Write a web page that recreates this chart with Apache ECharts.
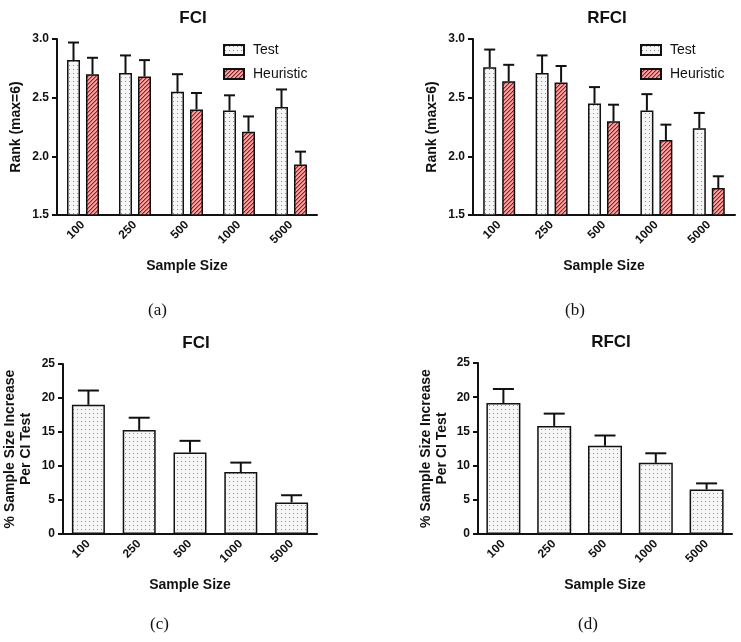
<!DOCTYPE html>
<html><head><meta charset="utf-8">
<script src="https://cdn.jsdelivr.net/npm/echarts@6/dist/echarts.min.js"></script>
<style>html,body{margin:0;padding:0;background:#fff}#c{width:741px;height:642px}</style>
</head><body><div id="c"></div>
<script>
const categories = ['100','250','500','1000','5000'];
const rankTicks = [1.5, 2.0, 2.5, 3.0];
// (a) FCI rank
const fciTest = [2.82, 2.71, 2.55, 2.39, 2.42];
const fciTestErr = [0.15, 0.15, 0.15, 0.13, 0.15];
const fciHeur = [2.70, 2.68, 2.40, 2.21, 1.93];
const fciHeurErr = [0.14, 0.14, 0.14, 0.13, 0.11];
// (b) RFCI rank
const rfciTest = [2.76, 2.71, 2.45, 2.39, 2.24];
const rfciTestErr = [0.15, 0.15, 0.14, 0.14, 0.13];
const rfciHeur = [2.64, 2.63, 2.30, 2.14, 1.73];
const rfciHeurErr = [0.14, 0.14, 0.14, 0.13, 0.10];
// (c) FCI % increase
const fciInc = [19.0, 15.3, 12.0, 9.1, 4.65];
const fciIncErr = [2.1, 1.8, 1.7, 1.4, 1.05];
// (d) RFCI % increase
const rfciInc = [19.15, 15.8, 12.9, 10.4, 6.5];
const rfciIncErr = [2.05, 1.8, 1.5, 1.4, 0.9];

function makePattern(w, h, bg, layers) {
  const c = document.createElement('canvas');
  c.width = w; c.height = h;
  const ctx = c.getContext('2d');
  ctx.fillStyle = bg; ctx.fillRect(0, 0, w, h);
  layers.forEach(l => { ctx.fillStyle = l.c; l.p.forEach(p => ctx.fillRect(p[0], p[1], 1, 1)); });
  return { image: c, repeat: 'repeat' };
}
const dotFill = makePattern(4, 4, '#f6f6f6', [{c: '#8e8e8e', p: [[1, 1]]}]);
const hatchFill = makePattern(4, 4, '#f4a3a3', [
  {c: '#7a2424', p: [[0, 3], [1, 2], [2, 1], [3, 0]]},
  {c: '#d46a6a', p: [[1, 3], [2, 2], [3, 1], [0, 0]]}
]);

const FONT = 'Liberation Sans, Arial, sans-serif';
const INK = '#111';

function errSeries(grid, vals, errs, offset, cap) {
  return {
    type: 'custom', xAxisIndex: grid, yAxisIndex: grid, z: 5,
    data: categories.map((c, i) => [i, vals[i], errs[i]]),
    renderItem: function (params, api) {
      const i = api.value(0), v = api.value(1), e = api.value(2);
      const b = api.coord([i, v]), t = api.coord([i, v + e]);
      const x = b[0] + offset;
      return { type: 'group', children: [
        {type: 'line', shape: {x1: x, y1: b[1], x2: x, y2: t[1]}, style: {stroke: INK, lineWidth: 2}},
        {type: 'line', shape: {x1: x - cap / 2, y1: t[1], x2: x + cap / 2, y2: t[1]}, style: {stroke: INK, lineWidth: 2}}
      ]};
    }
  };
}

function xAx(grid) {
  return {
    type: 'category', gridIndex: grid, data: categories,
    name: 'Sample Size', nameLocation: 'middle', nameGap: 44,
    nameTextStyle: {fontFamily: FONT, fontWeight: 'bold', fontSize: 14, color: INK},
    axisLine: {lineStyle: {color: INK, width: 2}},
    axisTick: {alignWithLabel: true, length: 5, lineStyle: {color: INK, width: 2}},
    axisLabel: {rotate: 45, fontFamily: FONT, fontWeight: 'bold', fontSize: 12, color: INK, margin: 8}
  };
}
function yAx(grid, min, max, interval, name, gap, fmt) {
  return {
    type: 'value', gridIndex: grid, min: min, max: max, interval: interval,
    name: name, nameLocation: 'middle', nameGap: gap, nameRotate: 90,
    nameTextStyle: {fontFamily: FONT, fontWeight: 'bold', fontSize: 14, color: INK, lineHeight: 16, align: 'center'},
    axisLine: {show: true, lineStyle: {color: INK, width: 2}},
    axisTick: {show: true, length: 5, lineStyle: {color: INK, width: 2}},
    splitLine: {show: false},
    axisLabel: {fontFamily: FONT, fontWeight: 'bold', fontSize: 12, color: INK, margin: 8, formatter: fmt}
  };
}
const rankFmt = v => v.toFixed(1);
const intFmt = v => String(v);

const barStyleTest = {color: dotFill, borderColor: INK, borderWidth: 1.5};
const barStyleHeur = {color: hatchFill, borderColor: INK, borderWidth: 1.5};

function titleAt(text, x, y) {
  return {text: text, left: x, top: y, textAlign: 'center',
    textStyle: {fontFamily: FONT, fontWeight: 'bold', fontSize: 17, color: INK}};
}
function caption(text, x, y) {
  return {type: 'text', left: x, top: y, style: {text: text, font: '17px "Liberation Serif", "DejaVu Serif", serif', fill: '#111'}};
}
function legendAt(x) {
  return {left: x, top: 38, orient: 'vertical', data: ['Test', 'Heuristic'], icon: 'rect',
    itemWidth: 20, itemHeight: 10, itemGap: 10, selectedMode: false,
    textStyle: {fontFamily: FONT, fontSize: 14, color: INK, padding: [0, 0, 0, 4]}};
}

const option = {
  animation: false,
  title: [titleAt('FCI', 188, 5), titleAt('RFCI', 602, 5), titleAt('FCI', 191, 330), titleAt('RFCI', 606, 329)],
  legend: [legendAt(218), legendAt(635)],
  grid: [
    {left: 57, top: 39, width: 260, height: 176},
    {left: 473, top: 39, width: 262, height: 176},
    {left: 63, top: 364, width: 254, height: 170},
    {left: 478, top: 363, width: 254, height: 171}
  ],
  xAxis: [xAx(0), xAx(1), xAx(2), xAx(3)],
  yAxis: [
    yAx(0, rankTicks[0], rankTicks[3], 0.5, 'Rank (max=6)', 33, rankFmt),
    yAx(1, rankTicks[0], rankTicks[3], 0.5, 'Rank (max=6)', 33, rankFmt),
    yAx(2, 0, 25, 5, '% Sample Size Increase\nPer CI Test', 29, intFmt),
    yAx(3, 0, 25, 5, '% Sample Size Increase\nPer CI Test', 28, intFmt)
  ],
  series: [
    {type: 'bar', name: 'Test', xAxisIndex: 0, yAxisIndex: 0, data: fciTest, barWidth: 13, barGap: '46%', itemStyle: barStyleTest},
    {type: 'bar', name: 'Heuristic', xAxisIndex: 0, yAxisIndex: 0, data: fciHeur, barWidth: 13, barGap: '46%', itemStyle: barStyleHeur},
    {type: 'bar', name: 'Test', xAxisIndex: 1, yAxisIndex: 1, data: rfciTest, barWidth: 13, barGap: '46%', itemStyle: barStyleTest},
    {type: 'bar', name: 'Heuristic', xAxisIndex: 1, yAxisIndex: 1, data: rfciHeur, barWidth: 13, barGap: '46%', itemStyle: barStyleHeur},
    {type: 'bar', name: 'FCI inc', xAxisIndex: 2, yAxisIndex: 2, data: fciInc, barWidth: 33, itemStyle: barStyleTest},
    {type: 'bar', name: 'RFCI inc', xAxisIndex: 3, yAxisIndex: 3, data: rfciInc, barWidth: 34, itemStyle: barStyleTest},
    errSeries(0, fciTest, fciTestErr, -9.5, 11),
    errSeries(0, fciHeur, fciHeurErr, 9.5, 11),
    errSeries(1, rfciTest, rfciTestErr, -9.5, 11),
    errSeries(1, rfciHeur, rfciHeurErr, 9.5, 11),
    errSeries(2, fciInc, fciIncErr, 0, 21),
    errSeries(3, rfciInc, rfciIncErr, 0, 21)
  ],
  graphic: [
    caption('(a)', 148, 302), caption('(b)', 565, 302),
    caption('(c)', 150, 616), caption('(d)', 578, 616)
  ]
};
const chart = echarts.init(document.getElementById('c'), null, {renderer: 'canvas'});
chart.setOption(option);
</script>
</body></html>
